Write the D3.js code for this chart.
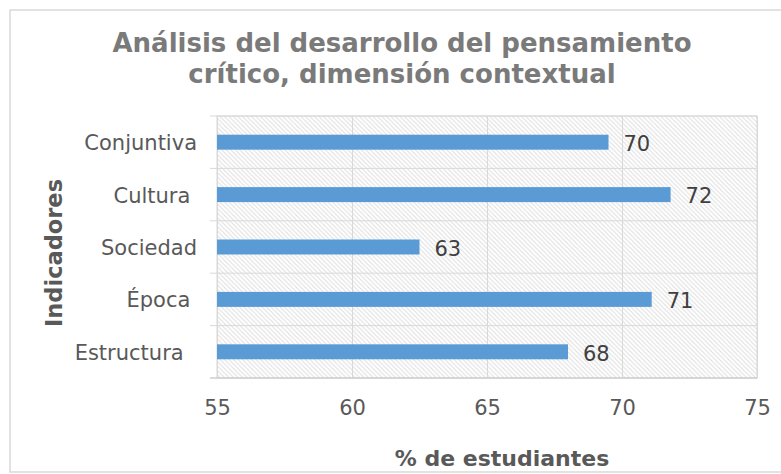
<!DOCTYPE html>
<html>
<head>
<meta charset="utf-8">
<script src="https://cdn.jsdelivr.net/npm/d3@7"></script>
<style>
  html, body { margin: 0; padding: 0; background: #fff; }
  svg { display: block; font-family: "DejaVu Sans", Verdana, sans-serif; }
</style>
</head>
<body>
<script>
// ---- data ----
const categories = ["Conjuntiva", "Cultura ", "Sociedad", "Época ", "Estructura  "];
const values = [69.5, 71.8, 62.5, 71.1, 68.0];
const xTicks = [55, 60, 65, 70, 75];
const titleLines = ["Análisis del desarrollo del pensamiento", "crítico, dimensión contextual"];
const xTitle = "% de estudiantes";
const yTitle = "Indicadores";

const W = 781, H = 474;
const plot = { left: 217, right: 757, top: 116, bottom: 378 };

const svg = d3.select("body").append("svg").attr("width", W).attr("height", H);

const defs = svg.append("defs");
const pat = defs.append("pattern").attr("id", "hatch")
  .attr("patternUnits", "userSpaceOnUse").attr("width", 4.5).attr("height", 4.5);
pat.append("rect").attr("width", 4.5).attr("height", 4.5).attr("fill", "#fff");
pat.append("path").attr("d", "M0,0L4.5,4.5M-1,3.5L1,5.5M3.5,-1L5.5,1")
  .attr("stroke", "#dedede").attr("stroke-width", 1);

// chart area border
svg.append("rect").attr("x", 10).attr("y", 10).attr("width", 800).attr("height", 462)
  .attr("fill", "#fff").attr("stroke", "#d9d9d9").attr("stroke-width", 1.5);

const x = d3.scaleLinear().domain([xTicks[0], xTicks[xTicks.length - 1]]).range([plot.left, plot.right]);
const y = d3.scaleBand().domain(categories).range([plot.top, plot.bottom])
  .paddingInner(0.714).paddingOuter(0.357);

// plot background
svg.append("rect").attr("x", plot.left).attr("y", plot.top)
  .attr("width", plot.right - plot.left).attr("height", plot.bottom - plot.top)
  .attr("fill", "url(#hatch)").attr("stroke", "#d9d9d9").attr("stroke-width", 1);

// x axis with vertical gridlines
const xAxis = svg.append("g").attr("transform", `translate(0,${plot.bottom})`)
  .call(d3.axisBottom(x).tickValues(xTicks).tickSize(-(plot.bottom - plot.top)).tickPadding(22));
xAxis.select(".domain").remove();
xAxis.selectAll(".tick line").attr("stroke", "#d9d9d9");
xAxis.selectAll(".tick text").attr("fill", "#595959").attr("font-size", 21)
  .attr("font-family", "DejaVu Sans, sans-serif");

// horizontal category boundary lines (extend as tick marks to the left)
const step = y.step();
const boundaries = d3.range(categories.length + 1).map(i => plot.top + i * step);
svg.append("g").selectAll("line").data(boundaries).join("line")
  .attr("x1", plot.left - 7).attr("x2", plot.right)
  .attr("y1", d => d).attr("y2", d => d)
  .attr("stroke", (d, i) => i === categories.length ? "#cfcfcf" : "#d9d9d9")
  .attr("stroke-width", (d, i) => i === categories.length ? 1.5 : 1);

// y axis labels
const yAxis = svg.append("g").attr("transform", `translate(${plot.left},0)`)
  .call(d3.axisLeft(y).tickSize(0).tickPadding(20));
yAxis.select(".domain").remove();
yAxis.selectAll(".tick text").attr("fill", "#595959").attr("font-size", 21)
  .attr("font-family", "DejaVu Sans, sans-serif")
  .attr("dy", "0.38em")
  .attr("xml:space", "preserve").style("white-space", "pre");

// bars
svg.append("g").selectAll("rect").data(categories).join("rect")
  .attr("x", x(xTicks[0]))
  .attr("y", d => y(d))
  .attr("width", (d, i) => x(values[i]) - x(xTicks[0]))
  .attr("height", y.bandwidth())
  .attr("fill", "#5b9bd5");

// value labels
svg.append("g").selectAll("text").data(categories).join("text")
  .attr("x", (d, i) => x(values[i]) + 15)
  .attr("y", d => y(d) + y.bandwidth() / 2)
  .attr("dy", "0.42em")
  .attr("font-size", 21)
  .attr("fill", "#404040")
  .text((d, i) => Math.round(values[i]));

// title
svg.append("text").attr("text-anchor", "middle").attr("font-weight", "bold")
  .attr("font-size", 26).attr("fill", "#7a7a7a")
  .selectAll("tspan").data(titleLines).join("tspan")
  .attr("x", 402).attr("y", (d, i) => 52 + i * 31).text(d => d);

// axis titles
svg.append("text").attr("x", 502).attr("y", 466).attr("text-anchor", "middle")
  .attr("font-weight", "bold").attr("font-size", 22).attr("fill", "#595959").text(xTitle);

svg.append("text").attr("transform", "translate(62,253) rotate(-90)")
  .attr("text-anchor", "middle").attr("font-weight", "bold").attr("font-size", 22.5)
  .attr("fill", "#595959").text(yTitle);
</script>
</body>
</html>
